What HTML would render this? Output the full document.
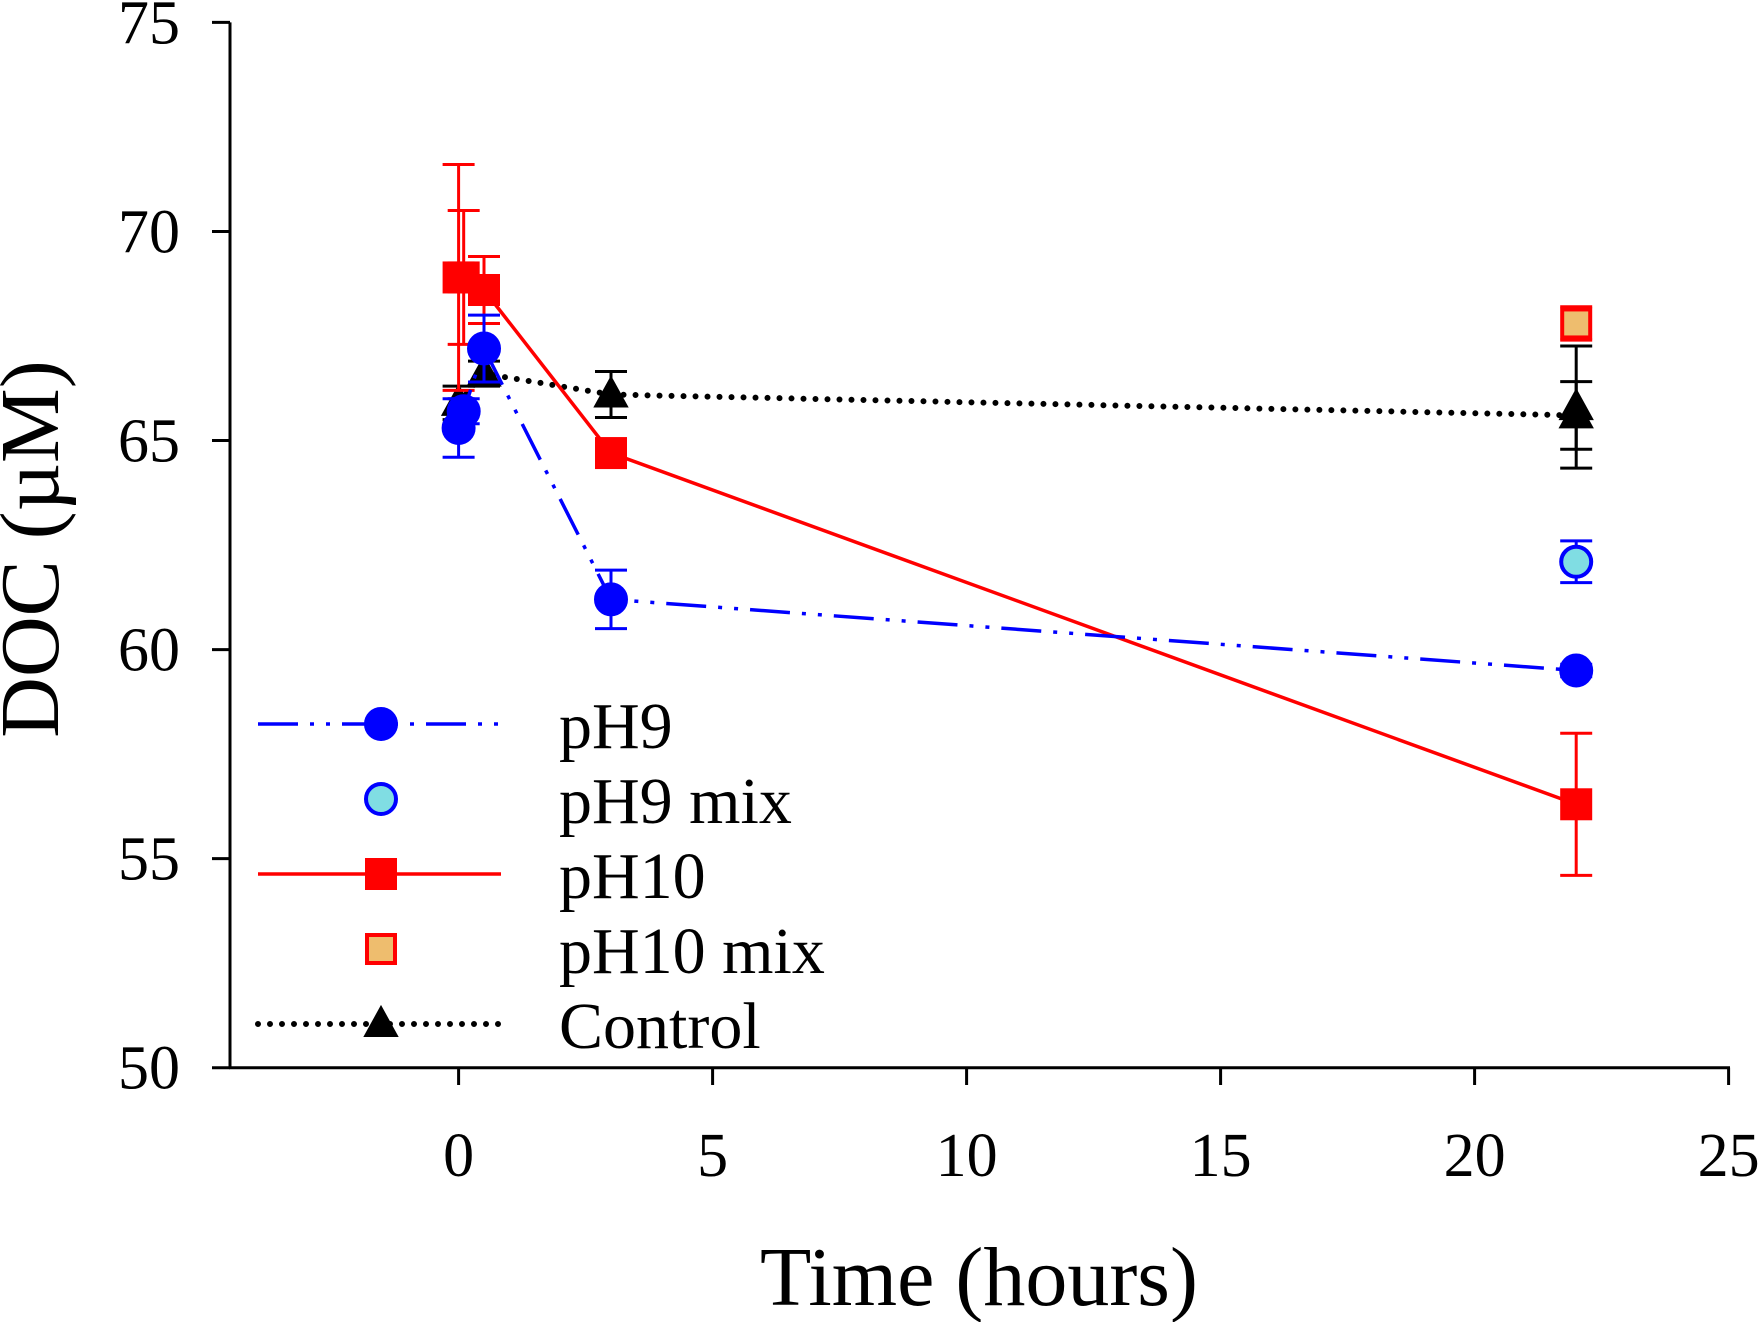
<!DOCTYPE html>
<html><head><meta charset="utf-8"><style>
html,body{margin:0;padding:0;background:#fff;}
svg{display:block;font-family:"Liberation Serif",serif;}
</style></head><body>
<svg id="chart" width="1758" height="1322" viewBox="0 0 1758 1322" xmlns="http://www.w3.org/2000/svg">
<g id="axes"></g>
<g id="marks"></g>
<g id="legend"></g>
<text transform="translate(58,549) rotate(-90)" text-anchor="middle" font-size="84">DOC (µM)</text>
<text x="979" y="1305" text-anchor="middle" font-size="84">Time (hours)</text>
</svg>
<script>
const xTicks=[0,5,10,15,20,25];
const yTicks=[50,55,60,65,70,75];
const pH9T=[0,0.1,0.5,3,22];
const pH9V=[65.3,65.7,67.2,61.2,59.5];
const pH9E=[0.7,0.3,0.8,0.7,0.15];
const pH9mixT=[22];
const pH9mixV=[62.1];
const pH9mixE=[0.5];
const pH10T=[0,0.1,0.5,3,22];
const pH10V=[68.9,68.9,68.6,64.7,56.3];
const pH10E=[2.7,1.6,0.8,0.1,1.7];
const pH10mixT=[22];
const pH10mixV=[67.8];
const pH10mixE=[0.4];
const ctrlT=[0,0.5,3,22,22];
const ctrlV=[65.9,66.6,66.1,65.8,65.6];
const ctrlE=[0.4,0.3,0.55,1.46,0.81];
const ctrlLineIdx=[0,1,2,4];
const legendLabels=["pH9","pH9 mix","pH10","pH10 mix","Control"];

const NS="http://www.w3.org/2000/svg";
const X=t=>458.6+(t-0)*(1728.6-458.6)/25;
const Y=v=>1067.7-(v-50)*(1067.7-22.4)/25;
function mk(tag,parent,attrs){const e=document.createElementNS(NS,tag);for(const k in attrs)e.setAttribute(k,attrs[k]);parent.appendChild(e);return e;}
const ax=document.getElementById('axes'),mg=document.getElementById('marks'),lg=document.getElementById('legend');

let e=mk('line',ax,{x1:230,y1:22.4,x2:230,y2:1069,stroke:'#000','stroke-width':3});

e=mk('line',ax,{x1:229,y1:1067.7,x2:1730,y2:1067.7,stroke:'#000','stroke-width':3});

yTicks.forEach(v=>{
 let t=mk('line',ax,{x1:212,y1:Y(v),x2:230,y2:Y(v),stroke:'#000','stroke-width':3});
 
 let l=mk('text',ax,{x:180,y:Y(v)+21,'text-anchor':'end','font-size':62});l.textContent=v;
 
});
xTicks.forEach(v=>{
 let t=mk('line',ax,{x1:X(v),y1:1067.7,x2:X(v),y2:1085,stroke:'#000','stroke-width':3});
 
 let l=mk('text',ax,{x:X(v),y:1176,'text-anchor':'middle','font-size':62});l.textContent=v;
 
});

function line(T,V,color,dash,name){
 const pts=T.map((t,i)=>X(t)+','+Y(V[i])).join(' ');
 const a={points:pts,fill:'none',stroke:color,'stroke-width':3.5};
 if(dash)a['stroke-dasharray']=dash;
 if(dash==='0 12'){a['stroke-linecap']='round';a['stroke-width']=6;}
 const p=mk('polyline',mg,a);
 
}
function errs(T,V,E,color,name){
 T.forEach((t,i)=>{
  const g=mk('g',mg,{stroke:color,'stroke-width':3});
  
  const x=X(t),y1=Y(V[i]+E[i]),y2=Y(V[i]-E[i]);
  mk('line',g,{x1:x,y1:y1,x2:x,y2:y2});
  mk('line',g,{x1:x-16,y1:y1,x2:x+16,y2:y1});
  mk('line',g,{x1:x-16,y1:y2,x2:x+16,y2:y2});
 });
}
function marker(type,x,y,fill,stroke,parent){
 let m;
 if(type==='circle')m=mk('circle',parent,{cx:x,cy:y,r:15,fill:fill,stroke:stroke,'stroke-width':4});
 else if(type==='square')m=mk('rect',parent,{x:x-14,y:y-14,width:28,height:28,fill:fill,stroke:stroke,'stroke-width':4});
 else m=mk('polygon',parent,{points:`${x},${y-17} ${x-16},${y+12} ${x+16},${y+12}`,fill:fill,stroke:stroke,'stroke-width':2});
 return m;
}
function pts(T,V,type,fill,stroke,name){
 T.forEach((t,i)=>{const m=marker(type,X(t),Y(V[i]),fill,stroke,mg);
  });
}
// control
line(ctrlLineIdx.map(i=>ctrlT[i]),ctrlLineIdx.map(i=>ctrlV[i]),'#000','0 12','control-line');
errs(ctrlT,ctrlV,ctrlE,'#000','control-error-bar');
pts(ctrlT,ctrlV,'tri','#000','#000','control-point');
// pH10
line(pH10T,pH10V,'#f00',null,'ph10-line');
errs(pH10T,pH10V,pH10E,'#f00','ph10-error-bar');
pts(pH10T,pH10V,'square','#f00','#f00','ph10-point');
// pH9
line(pH9T,pH9V,'#00f','40 12 4 12 4 12','ph9-line');
errs(pH9T,pH9V,pH9E,'#00f','ph9-error-bar');
pts(pH9T,pH9V,'circle','#00f','#00f','ph9-point');
errs(pH9mixT,pH9mixV,pH9mixE,'#00f','ph9-mix-error-bar');
pts(pH9mixT,pH9mixV,'circle','#80dde3','#00f','ph9-mix-point');
errs(pH10mixT,pH10mixV,pH10mixE,'#f00','ph10-mix-error-bar');
pts(pH10mixT,pH10mixV,'square','#eebd6e','#f00','ph10-mix-point');

// legend
const rowsY=[724,799,874,949,1024];
const spec=[['circle','#00f','#00f','#00f','40 12 4 12 4 12'],['circle','#80dde3','#00f',null,null],['square','#f00','#f00','#f00',null],['square','#eebd6e','#f00',null,null],['tri','#000','#000','#000','0 12']];
legendLabels.forEach((lab,i)=>{
 const g=mk('g',lg,{});
 
 const s=spec[i],y=rowsY[i];
 if(s[3]){const a={x1:258,y1:y,x2:501,y2:y,stroke:s[3],'stroke-width':3.5};
  if(s[4])a['stroke-dasharray']=s[4];
  if(s[4]==='0 12'){a['stroke-linecap']='round';a['stroke-width']=6;}
  mk('line',g,a);}
 marker(s[0],381,y,s[1],s[2],g);
 const t=mk('text',g,{x:559,y:y+24,'font-size':66});t.textContent=lab;
});
</script>
</body></html>
